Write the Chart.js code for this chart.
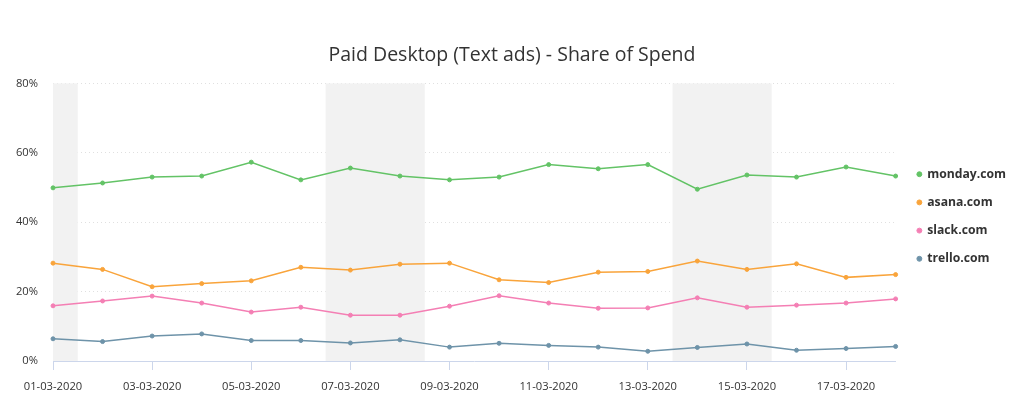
<!DOCTYPE html>
<html>
<head>
<meta charset="utf-8">
<script src="https://cdn.jsdelivr.net/npm/chart.js"></script>
<style>
  html, body { margin: 0; padding: 0; background: #fff; }
  #wrap { width: 1024px; height: 410px; position: relative; }
</style>
</head>
<body>
<div id="wrap"><canvas id="grafica"></canvas></div>
<script>
const fechas = ["01-03-2020","02-03-2020","03-03-2020","04-03-2020","05-03-2020","06-03-2020",
  "07-03-2020","08-03-2020","09-03-2020","10-03-2020","11-03-2020","12-03-2020",
  "13-03-2020","14-03-2020","15-03-2020","16-03-2020","17-03-2020","18-03-2020"];

const monday = [49.9,51.3,53.0,53.3,57.3,52.2,55.6,53.3,52.2,53.0,56.6,55.4,56.6,49.5,53.6,53.0,55.9,53.3];
const asana  = [28.2,26.4,21.4,22.3,23.1,27.0,26.2,27.9,28.2,23.4,22.6,25.6,25.8,28.8,26.4,28.0,24.1,24.9];
const slack  = [15.9,17.3,18.7,16.7,14.1,15.5,13.2,13.2,15.8,18.8,16.7,15.2,15.3,18.2,15.5,16.1,16.7,17.9];
const trello = [6.4,5.6,7.2,7.8,5.9,5.9,5.2,6.1,4.0,5.1,4.5,4.0,2.8,3.9,4.9,3.1,3.6,4.2];

// fines de semana (desde, hasta); 29-02 queda fuera del eje
const bandaDesde = ["29-02-2020","07-03-2020","14-03-2020"];
const bandaHasta = ["01-03-2020","08-03-2020","15-03-2020"];

const yTicks = [0, 20, 40, 60, 80];

const FUENTE = "'Open Sans', 'DejaVu Sans', sans-serif";

const series = [
  { label: "monday.com", data: monday, color: "#63c366" },
  { label: "asana.com",  data: asana,  color: "#f9a43b" },
  { label: "slack.com",  data: slack,  color: "#f47fb4" },
  { label: "trello.com", data: trello, color: "#6e93a9" }
];

// bandas grises detras de las lineas
const bandas = {
  id: "bandas",
  beforeDatasetsDraw(chart) {
    const { ctx, chartArea, scales } = chart;
    const x = scales.x;
    ctx.save();
    ctx.fillStyle = "#f2f2f2";
    bandaDesde.forEach((d, i) => {
      const ia = fechas.indexOf(d);
      const a = ia < 0 ? -0.5 : ia - 0.5;
      const b = fechas.indexOf(bandaHasta[i]) + 0.5;
      const x1 = Math.max(x.getPixelForValue(a), chartArea.left);
      const x2 = Math.min(x.getPixelForValue(b), chartArea.right);
      ctx.fillRect(x1, chartArea.top, x2 - x1, chartArea.bottom - chartArea.top);
    });
    ctx.restore();
  }
};

// mover un poco la leyenda y el titulo despues del layout
const ajustes = {
  id: "ajustes",
  afterLayout(chart) {
    const lg = chart.legend;
    if (lg) {
      lg.left += 6; lg.right += 6;
      lg.top -= 6; lg.bottom -= 6;
    }
    const t = chart.titleBlock;
    if (t) {
      t.left += 7; t.right += 7;
      t.top += 3; t.bottom += 3;
    }
  }
};

new Chart(document.getElementById("grafica"), {
  type: "line",
  data: {
    labels: fechas,
    datasets: series.map(s => ({
      label: s.label,
      data: s.data,
      borderColor: s.color,
      backgroundColor: s.color,
      borderWidth: 1.5,
      pointRadius: 2,
      pointBorderWidth: 1,
      pointHoverRadius: 4,
      tension: 0
    }))
  },
  options: {
    responsive: true,
    maintainAspectRatio: false,
    animation: false,
    layout: { padding: { left: 0, right: 14, top: 35, bottom: 0 } },
    plugins: {
      title: {
        display: true,
        text: "Paid Desktop (Text ads) - Share of Spend",
        color: "#333",
        font: { family: FUENTE, size: 19.5, weight: "normal" },
        padding: { top: 6, bottom: 19 }
      },
      legend: {
        position: "right",
        align: "center",
        labels: {
          usePointStyle: true,
          pointStyle: "circle",
          boxWidth: 3.5,
          boxHeight: 3.5,
          padding: 16,
          color: "#333",
          font: { family: FUENTE, size: 12.2, weight: "bold" }
        }
      },
      tooltip: { enabled: false }
    },
    scales: {
      x: {
        offset: false,
        afterFit: s => { s.height = 49; },
        grid: {
          drawOnChartArea: false,
          drawTicks: true,
          tickLength: 9,
          color: c => (c.index % 2 === 0 ? "#ccd6eb" : "rgba(0,0,0,0)")
        },
        border: { color: "#ccd6eb" },
        ticks: {
          autoSkip: false,
          maxRotation: 0,
          color: "#333",
          padding: 10,
          font: { family: FUENTE, size: 11.2 },
          callback: function (v, i) { return i % 2 === 0 ? fechas[i] : ""; }
        }
      },
      y: {
        min: 0,
        max: 80,
        afterBuildTicks: s => { s.ticks = yTicks.map(v => ({ value: v })); },
        afterFit: s => { s.width = 53; },
        grid: {
          color: "#e0e0e0",
          drawTicks: false
        },
        border: { display: false, dash: [1, 3] },
        ticks: {
          color: "#333",
          padding: 15,
          font: { family: FUENTE, size: 11.2 },
          callback: v => v + "%"
        }
      }
    }
  },
  plugins: [bandas, ajustes]
});
</script>
</body>
</html>
